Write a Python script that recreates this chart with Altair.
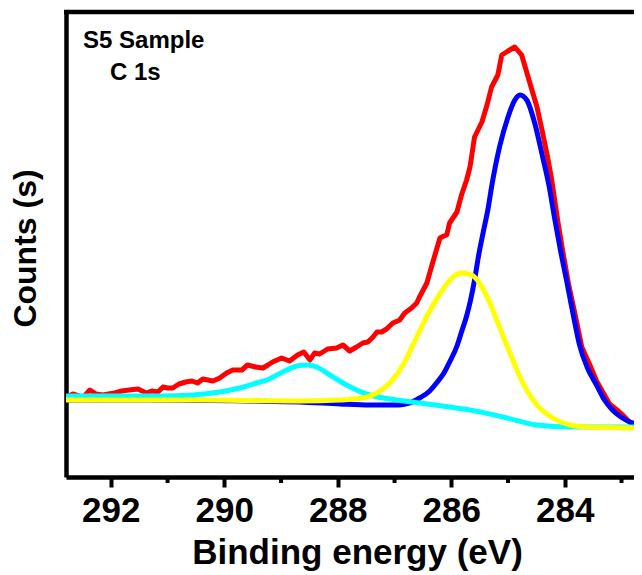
import altair as alt
import pandas as pd

# ---- data (binding energy in eV, counts in a.u.) ----
red_energy = [292.78, 292.67, 292.56, 292.48, 292.37, 292.26, 292.14, 292.04, 291.93, 291.81,
              291.68, 291.52, 291.45, 291.37, 291.28, 291.17, 291.08, 291.00, 290.91, 290.80,
              290.68, 290.57, 290.47, 290.38, 290.29, 290.20, 290.08, 289.96, 289.85, 289.69,
              289.59, 289.45, 289.32, 289.23, 289.15, 288.99, 288.85, 288.71, 288.60, 288.49,
              288.41, 288.32, 288.18, 288.02, 287.91, 287.79, 287.67, 287.56, 287.47, 287.38,
              287.31, 287.23, 287.14, 287.03, 286.91, 286.82, 286.70, 286.61, 286.56, 286.43,
              286.33, 286.20, 286.13, 286.08, 286.03, 285.90, 285.82, 285.73, 285.67, 285.59,
              285.46, 285.37, 285.29, 285.18, 285.11, 285.00, 284.88, 284.76, 284.62, 284.49,
              284.39, 284.30, 284.23, 284.12, 284.04, 283.93, 283.82, 283.70, 283.55, 283.44,
              283.33, 283.21, 283.08, 282.98, 282.86, 282.75, 282.64]
red_counts = [80, 83, 81, 80, 87, 83, 82, 83, 84, 86,
              87, 88, 86, 84, 86, 85, 90, 89, 89, 93,
              95, 96, 94, 98, 97, 96, 99, 104, 107, 107,
              112, 110, 109, 112, 115, 119, 116, 122, 125, 117,
              124, 123, 128, 129, 132, 126, 130, 134, 135, 140,
              145, 145, 148, 154, 157, 164, 169, 174, 180, 194,
              214, 239, 241, 242, 254, 265, 282, 297, 310, 340,
              355, 372, 390, 402, 422, 426, 430, 422, 395, 370,
              344, 319, 297, 255, 227, 192, 163, 130, 111, 96,
              85, 73, 67, 62, 55, 51, 49]

blue_energy = [292.79, 291.31, 289.55, 288.67, 287.96, 287.44, 286.91, 286.73, 286.56, 286.38,
               286.26, 286.13, 286.03, 285.90, 285.82, 285.73, 285.66, 285.59, 285.52, 285.44,
               285.35, 285.29, 285.15, 285.00, 284.88, 284.79, 284.67, 284.53, 284.39, 284.28,
               284.18, 284.07, 283.96, 283.84, 283.74, 283.60, 283.44, 283.30, 283.16, 283.01,
               282.85, 282.64]
blue_counts = [77, 77, 76, 75, 73, 72, 72, 74, 79, 86,
               94, 104, 115, 131, 145, 161, 177, 197, 221, 244,
               269, 290, 330, 360, 377, 382, 377, 354, 320, 292,
               259, 225, 194, 159, 132, 109, 92, 77, 67, 60,
               55, 52]

yellow_energy = [292.79, 290.43, 288.67, 287.96, 287.56, 287.31, 287.08, 286.85, 286.61, 286.38,
                 286.20, 285.99, 285.82, 285.64, 285.46, 285.32, 285.20, 285.06, 284.93, 284.79,
                 284.65, 284.49, 284.21, 283.91, 283.61, 282.64]
yellow_counts = [77, 77, 76, 77, 79, 84, 94, 112, 140, 166,
                 183, 199, 204, 202, 190, 174, 157, 137, 119, 100,
                 85, 72, 59, 52, 50, 49]

cyan_energy = [292.79, 291.14, 290.56, 290.08, 289.73, 289.37, 289.25, 288.97, 288.72, 288.55,
               288.37, 288.14, 287.91, 287.67, 287.44, 287.08, 286.56, 286.03, 285.67, 285.09,
               284.49, 283.91, 282.64]
cyan_counts = [81, 81, 82, 85, 89, 95, 97, 105, 111, 112,
               110, 102, 94, 87, 82, 78, 74, 70, 67, 60,
               52, 50, 50]

major_ticks = [292, 290, 288, 286, 284]
minor_ticks = [291, 289, 287, 285, 283]
label_lines = ["S5 Sample", "C 1s"]
x_title = "Binding energy (eV)"
y_title = "Counts (s)"

FONT = "Liberation Sans"
W, H = 568, 465

x_scale = alt.Scale(domain=[282.78, 292.79], reverse=True, nice=False, zero=False)
y_scale = alt.Scale(domain=[0, 465], nice=False, zero=False)

x_axis = alt.Axis(values=major_ticks, format="d", title=x_title, grid=False,
                  domainWidth=4.5, domainColor="black", tickColor="black",
                  tickSize=10, tickWidth=4, labelFont=FONT, labelFontSize=35,
                  labelFontWeight="bold", labelColor="black", labelPadding=6,
                  titleFont=FONT, titleFontSize=35, titleFontWeight="bold",
                  titleColor="black", titleX=291, titleY=86,
                  titleBaseline="alphabetic", titleAlign="center")
y_axis = alt.Axis(labels=False, ticks=False, grid=False, title=y_title,
                  domainWidth=4.5, domainColor="black",
                  titleFont=FONT, titleFontSize=32, titleFontWeight="bold",
                  titleColor="black", titlePadding=24, titleY=236)

xe = alt.X("energy:Q", scale=x_scale, axis=x_axis)
ye = alt.Y("counts:Q", scale=y_scale, axis=y_axis)


def series(energy, counts, color, interp):
    df = pd.DataFrame({"energy": energy, "counts": counts})
    return alt.Chart(df).mark_line(color=color, strokeWidth=5, interpolate=interp,
                                   strokeJoin="round", strokeCap="round", clip=True
                                   ).encode(x=xe, y=ye)


red = series(red_energy, red_counts, "#FF0000", "linear")
blue = series(blue_energy, blue_counts, "#0000FF", "monotone")
yellow = series(yellow_energy, yellow_counts, "#FFFF00", "monotone")
cyan = series(cyan_energy, cyan_counts, "#00FFFF", "monotone")

minor = alt.Chart(pd.DataFrame({"energy": minor_ticks})).mark_rule(
    color="black", strokeWidth=4).encode(x=xe, y=alt.value(H), y2=alt.value(H + 6))

top_line = alt.Chart(pd.DataFrame({"energy": [major_ticks[0]]})).mark_rule(
    color="black", strokeWidth=4.5).encode(x=alt.value(-2), x2=alt.value(W), y=alt.value(0))

labels = alt.Chart(pd.DataFrame({"t": label_lines, "dx": [17, 44], "dy": [36, 68]})).mark_text(
    font=FONT, fontSize=24, fontWeight="bold", color="black", align="left",
    baseline="alphabetic").encode(text="t:N", x=alt.X("dx:Q", scale=None),
                                  y=alt.Y("dy:Q", scale=None))

chart = alt.layer(red, blue, cyan, yellow, minor, top_line, labels).properties(
    width=W, height=H,
    autosize=alt.AutoSizeParams(type="none"),
    padding={"left": 58, "top": 4, "right": 0, "bottom": 94}
).configure_view(stroke=None).configure(background="white")

chart.save("out.html", embed_options={"renderer": "svg", "actions": False})
